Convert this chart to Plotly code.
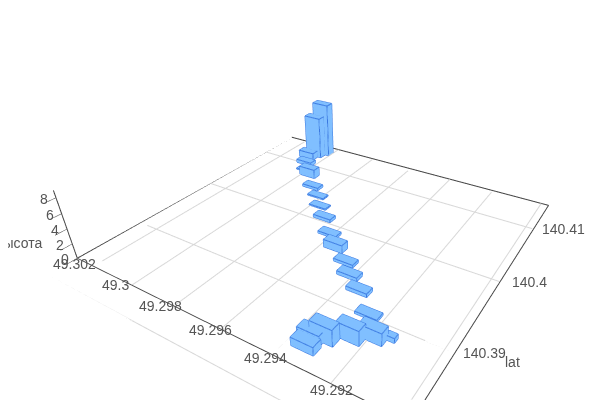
import plotly.graph_objects as go

lat = [140.3847,140.3857,140.3862,140.3873,140.3882,140.3888,140.3903,140.3925,140.3939,140.3954,140.3968,
       140.3985,140.4007,140.4025,140.4042,140.4056,140.4078,140.4087,140.4102,140.4118,140.4128,140.4138]
lon = [49.29338,49.29344,49.29311,49.29247,49.29191,49.29140,49.29253,49.2934,49.29411,49.29463,49.29542,
       49.29613,49.29695,49.29765,49.29821,49.29886,49.29964,49.30009,49.3005,49.3008,49.30063,49.30042]
height = [1.06,1.3,2.1,1.9,1.6,0.6,0.3,0.45,0.45,0.35,1.05,0.3,0.4,0.15,0.15,0.35,1.3,0.15,0.5,1.0,6.3,8.1]
d_lat = [0.0010]*5 + [0.0006] + [0.0010]*16
d_lon = [0.0008]*5 + [0.0003] + [0.0008]*16

lat_range = [140.3827, 140.4155]
lon_range = [49.2896, 49.3029]
z_range = [0, 8.9]
lat_grid = [140.39, 140.40, 140.41]
lon_grid = [49.2899, 49.292, 49.294, 49.296, 49.298, 49.3, 49.302]
outer_lat = 140.3797
lat_ticks = [140.39, 140.40, 140.41]
lat_labels = ["140.39", "140.4", "140.41"]
lon_ticks = [49.292, 49.294, 49.296, 49.298, 49.3, 49.302]
lon_labels = ["49.292", "49.294", "49.296", "49.298", "49.3", "49.302"]
z_ticks = [0, 2, 4, 6, 8]
z_labels = ["0", "2", "4", "6", "8"]
lon_label_dx = [1, -7, -10, -13, -16, -19]
lon_label_dy = [-6, -3, -1, 0, 0, 2]

xs, ys, zs, ii, jj, kk = [], [], [], [], [], []
ex, ey, ez = [], [], []
for a, o, h, da, dl in zip(lat, lon, height, d_lat, d_lon):
    n = len(xs)
    for z in (0, h):
        for sx, sy in ((-1,-1),(1,-1),(1,1),(-1,1)):
            xs.append(a+sx*da/2); ys.append(o+sy*dl/2); zs.append(z)
    for t in ((0,1,2),(0,2,3),(4,5,6),(4,6,7),(0,1,5),(0,5,4),(1,2,6),(1,6,5),(2,3,7),(2,7,6),(3,0,4),(3,4,7)):
        ii.append(n+t[0]); jj.append(n+t[1]); kk.append(n+t[2])
    for p, q in ((0,1),(1,2),(2,3),(3,0),(4,5),(5,6),(6,7),(7,4),(0,4),(1,5),(2,6),(3,7)):
        ex += [xs[n+p], xs[n+q], None]; ey += [ys[n+p], ys[n+q], None]; ez += [zs[n+p], zs[n+q], None]

gx, gy, gz = [], [], []
for v in lat_grid:
    gx += [v, v, None]; gy += [lon_range[0], lon_range[1], None]; gz += [0, 0, None]
for v in lon_grid:
    gx += [lat_range[0], lat_range[1], None]; gy += [v, v, None]; gz += [0, 0, None]
edge_x = [lat_range[0], lat_range[1], lat_range[1]]
edge_y = [lon_range[1], lon_range[1], lon_range[0]]
edge_z = [0, 0, 0]

fig = go.Figure()
fig.add_trace(go.Scatter3d(x=gx, y=gy, z=gz, mode="lines", line=dict(color="#d8d8d8", width=2), hoverinfo="skip"))
fig.add_trace(go.Scatter3d(x=edge_x, y=edge_y, z=edge_z, mode="lines", line=dict(color="#444", width=2), hoverinfo="skip"))
fig.add_trace(go.Mesh3d(x=xs, y=ys, z=zs, i=ii, j=jj, k=kk, color="#80bfff", flatshading=True,
                        lighting=dict(ambient=1, diffuse=0, specular=0, roughness=1, fresnel=0), hoverinfo="skip"))
fig.add_trace(go.Scatter3d(x=ex, y=ey, z=ez, mode="lines", line=dict(color="#3a78e0", width=2), hoverinfo="skip"))
# grid line lying just outside the boxed floor, in an overlaid scene sharing the same view
fig.add_trace(go.Scatter3d(x=[outer_lat, outer_lat], y=lon_range, z=[0, 0], mode="lines",
                           line=dict(color="#d8d8d8", width=2), hoverinfo="skip", scene="scene2"))

tf = dict(color="#555", size=14, family="Liberation Sans")
notes = [dict(x=lat_range[0], y=lon_range[1], z=0, text="высота", showarrow=False, xshift=-58, yshift=15, font=tf),
         dict(x=140.39, y=lon_range[0], z=0, text="lat", showarrow=False, xshift=58, yshift=-9, font=tf)]
for v, t, dx, dy in zip(lon_ticks, lon_labels, lon_label_dx, lon_label_dy):
    notes.append(dict(x=lat_range[0], y=v, z=0, text=t, showarrow=False, xshift=dx, yshift=dy, font=tf))
for v, t in zip(lat_ticks, lat_labels):
    notes.append(dict(x=v, y=lon_range[0], z=0, text=t, showarrow=False, xshift=30, yshift=0, font=tf))
for v, t in zip(z_ticks, z_labels):
    notes.append(dict(x=lat_range[0], y=lon_range[1], z=v, text=t, showarrow=False, xshift=-12, yshift=-1, font=tf))

ax = dict(showbackground=False, showgrid=False, showline=True, linecolor="#444", linewidth=2,
          zeroline=False, ticks="", ticklen=0, showticklabels=False, title=dict(text=""))
full = dict(x=[0, 1], y=[0, 1])
fig.update_layout(
    width=700, height=450, margin=dict(l=0, r=0, t=0, b=0), showlegend=False,
    font=dict(family="Liberation Sans"),
    scene=dict(
        domain=full,
        xaxis=dict(ax, range=lat_range, tickvals=lat_ticks),
        yaxis=dict(ax, range=lon_range, tickvals=lon_ticks),
        zaxis=dict(ax, range=z_range, tickvals=z_ticks, ticks="outside", tickcolor="#444", ticklen=3),
        aspectmode="manual", aspectratio=dict(x=1, y=1.06, z=0.22),
        camera=dict(eye=dict(x=-1.1454, y=-0.8053, z=0.8016), center=dict(x=0, y=-0.10, z=-0.087), up=dict(x=0, y=0, z=1)),
        annotations=notes,
    ),
    scene2=dict(
        domain=full,
        xaxis=dict(visible=False, range=[140.3790, lat_range[1]]),
        yaxis=dict(visible=False, range=lon_range),
        zaxis=dict(visible=False, range=z_range),
        aspectmode="manual", aspectratio=dict(x=1.1128, y=1.06, z=0.22),
        camera=dict(eye=dict(x=-1.089, y=-0.8053, z=0.8016), center=dict(x=0.0564, y=-0.10, z=-0.087), up=dict(x=0, y=0, z=1)),
    ),
)
fig.write_html("out.html")
